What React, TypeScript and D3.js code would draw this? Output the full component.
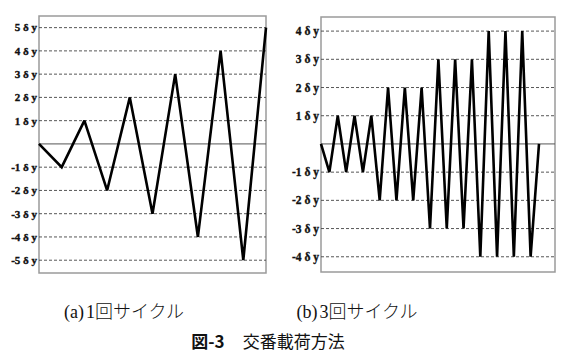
import React from "react";
import * as d3 from "d3";

// Panel (a): 1 cycle per amplitude
const cycleA: number[] = [0, -1, 1, -2, 2, -3, 3, -4, 4, -5, 5];
const ticksA: number[] = [5, 4, 3, 2, 1, -1, -2, -3, -4, -5];
// Panel (b): 3 cycles per amplitude
const cycleB: number[] = [
  0, -1, 1, -1, 1, -1, 1, -2, 2, -2, 2, -2, 2, -3, 3, -3, 3, -3, 3, -4, 4, -4, 4, -4, 4, -4, 0,
];
const ticksB: number[] = [4, 3, 2, 1, -1, -2, -3, -4];
const captionA = ["(a)", "1", "回サイクル"];
const captionB = ["(b)", "3", "回サイクル"];
const figLabel = "図-3";
const figTitle = "交番載荷方法";

const SERIF = "'Liberation Serif', 'Times New Roman', serif";
const CJK = "'Noto Sans CJK JP', sans-serif";

type PanelProps = {
  data: number[];
  ticks: number[];
  x0: number; x1: number; y0: number; y1: number;
  xMax: number; yMin: number; yMax: number;
  fontSize: number;
};

function Panel({ data, ticks, x0, x1, y0, y1, xMax, yMin, yMax, fontSize }: PanelProps) {
  const x = d3.scaleLinear().domain([0, xMax]).range([x0, x1]);
  const y = d3.scaleLinear().domain([yMin, yMax]).range([y1, y0]);
  const line = d3.line<number>().x((_, i) => x(i)).y((d) => y(d));
  return (
    <g>
      <rect x={x0} y={y0} width={x1 - x0} height={y1 - y0} fill="#fff" stroke="#9a9a9a" strokeWidth={1.5} />
      {ticks.map((t) => (
        <g key={t}>
          <line x1={x0} x2={x1} y1={y(t)} y2={y(t)} stroke="#444" strokeWidth={0.9} strokeDasharray="3,2" />
          <text
            x={x0 - 2}
            y={y(t)}
            dy="0.35em"
            textAnchor="end"
            style={{ fontFamily: SERIF, fontWeight: "bold", fontSize }}
            fill="#111"
            stroke="#111"
            strokeWidth={0.35}
          >
            {`${t} δ y`}
          </text>
        </g>
      ))}
      <line x1={x0} x2={x1} y1={y(0)} y2={y(0)} stroke="#555" strokeWidth={1} />
      <path d={line(data) || ""} fill="none" stroke="#000" strokeWidth={2.6} strokeLinejoin="miter" strokeMiterlimit={2} />
    </g>
  );
}

export default function App() {
  return (
    <svg
      width={567}
      height={355}
      style={{ position: "absolute", left: 0, top: 0, background: "#fff" }}
    >
      <rect width={567} height={355} fill="#fff" />
      <Panel data={cycleA} ticks={ticksA} x0={39} x1={266} y0={16} y1={273} xMax={10} yMin={-5.55} yMax={5.5} fontSize={11} />
      <Panel data={cycleB} ticks={ticksB} x0={321} x1={555} y0={17} y1={272} xMax={26 * 234 / 218} yMin={-4.54} yMax={4.5} fontSize={11.5} />
      <text x={124} y={318} textAnchor="middle" fill="#111" style={{ fontSize: 18 }}>
        <tspan style={{ fontFamily: SERIF }}>{captionA[0]}</tspan>
        <tspan dx={2} style={{ fontFamily: SERIF }}>{captionA[1]}</tspan>
        <tspan style={{ fontFamily: CJK, fontWeight: 300 }}>{captionA[2]}</tspan>
      </text>
      <text x={357} y={318} textAnchor="middle" fill="#111" style={{ fontSize: 18 }}>
        <tspan style={{ fontFamily: SERIF }}>{captionB[0]}</tspan>
        <tspan dx={2} style={{ fontFamily: SERIF }}>{captionB[1]}</tspan>
        <tspan style={{ fontFamily: CJK, fontWeight: 300 }}>{captionB[2]}</tspan>
      </text>
      <text x={268} y={348} textAnchor="middle" fill="#111" style={{ fontFamily: CJK, fontSize: 17 }}>
        <tspan style={{ fontWeight: "bold" }}>{figLabel}</tspan>
        <tspan dx={18} style={{ fontWeight: 400 }}>{figTitle}</tspan>
      </text>
    </svg>
  );
}
